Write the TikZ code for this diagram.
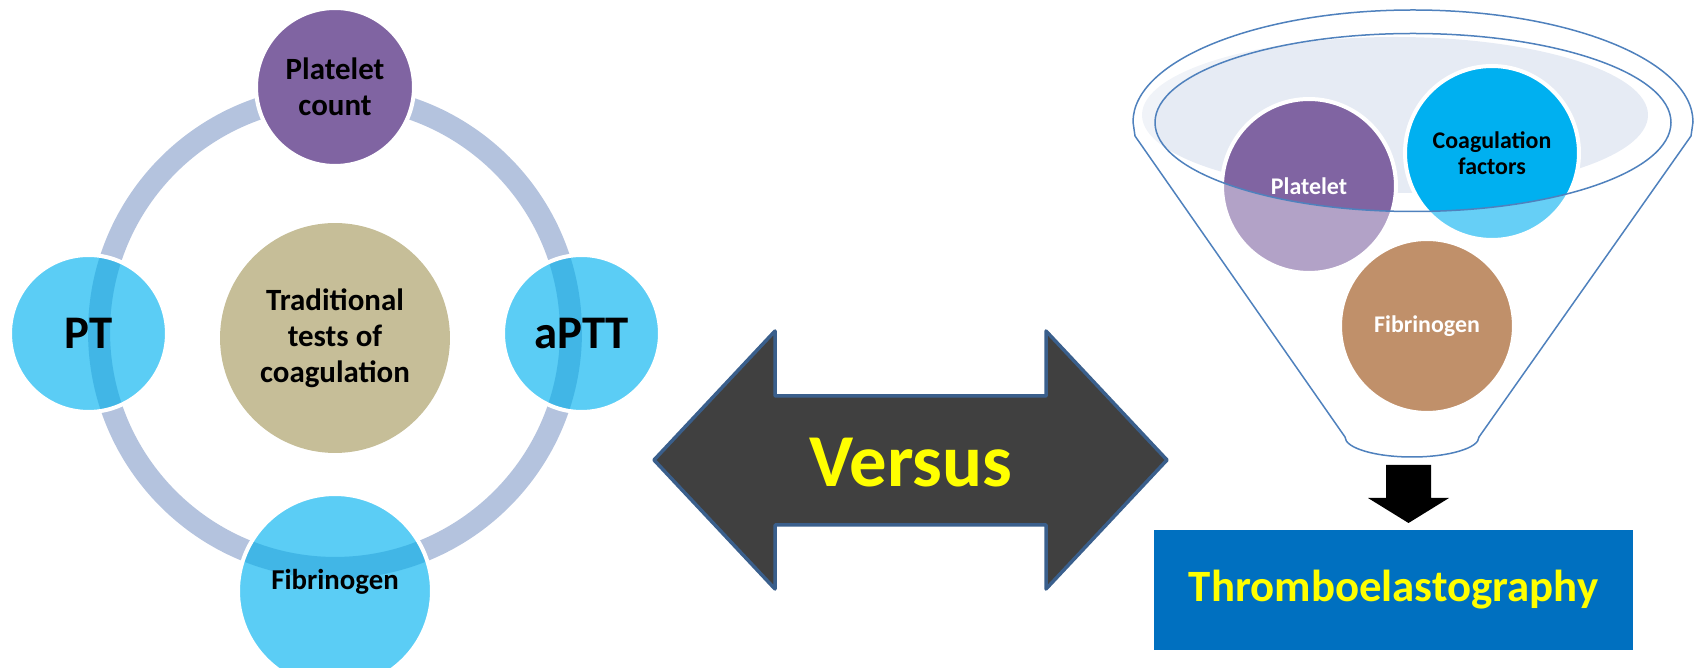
\documentclass[tikz,border=0pt]{standalone}
\usepackage{fontspec}
\setmainfont{Carlito}
\usepackage{tikz}
\usetikzlibrary{calc, positioning, shapes.geometric}
\definecolor{ringblue}{HTML}{B4C3DE}
\definecolor{bandblue}{HTML}{41B6E6}
\definecolor{skyfill}{HTML}{5BCDF5}
\definecolor{violetfill}{HTML}{8064A2}
\definecolor{khakifill}{HTML}{C6BE98}
\definecolor{arrowline}{HTML}{3A5F8C}
\definecolor{arrowfill}{HTML}{404040}
\definecolor{funnelline}{HTML}{4F81BD}
\definecolor{funnelfill}{HTML}{E6EBF4}
\definecolor{cyanfill}{HTML}{00B0F0}
\definecolor{brownfill}{HTML}{C0906A}
\definecolor{boxblue}{HTML}{0070C0}
\definecolor{versusyellow}{HTML}{FFFF00}
\tikzset{
    test/.style ={circle, draw=white, line width=0.08cm, inner sep=0pt, align=center,
                  font=\bfseries\fontsize{17.6}{20.4}\selectfont},
    side/.style ={test, fill=skyfill, minimum size=3.14cm,
                  path picture={\draw[bandblue, line width=0.44cm] (ringc) circle [radius=4.72cm];}},
    ball/.style ={circle, draw=white, line width=0.08cm, minimum size=3.48cm, inner sep=0pt,
                  align=center, font=\bfseries\fontsize{13.6}{15}\selectfont},
    bigtext/.style ={font=\bfseries\fontsize{26.6}{30}\selectfont}
    }

\begin{document}
\begin{tikzpicture}[
      x=0.02cm, y=-0.02cm, % one unit is one pixel of the reference
      semithick % line style
    ]
    \useasboundingbox (0,0) rectangle (1698,668);

    % traditional tests
    \coordinate (ringc) at (335,332);
    \draw[ringblue, line width=0.44cm] (ringc) circle [radius=4.72cm];
    \node[circle, fill=khakifill, minimum size=4.6cm, align=center,
          font=\bfseries\fontsize{17.6}{20.4}\selectfont] (trad) at (335,338)
          {Traditional\\tests of\\coagulation};
    \node[test, fill=violetfill, minimum size=3.16cm] (plc) at (335,87) {Platelet\\count};
    \node[side, bigtext] (pt) at (88.5,333.5) {PT};
    \node[side, bigtext] (aptt) at (581.5,333.5) {aPTT};
    \node[side, minimum size=3.88cm, text depth=0.48cm,
          font=\bfseries\fontsize{16.4}{19}\selectfont] (fib) at (335,591) {Fibrinogen};

    % versus arrow
    \draw[draw=arrowline, fill=arrowfill, line width=0.07cm, line join=round]
        (654,460) -- (775,331) -- (775,396) -- (1046,396) -- (1046,331) -- (1167,460)
        -- (1046,589) -- (1046,525) -- (775,525) -- (775,589) -- cycle;
    \node[text=versusyellow, font=\bfseries\fontsize{42.5}{48}\selectfont] (vs) at (911,463) {Versus};

    % funnel
    \fill[funnelfill] (1395,115) ellipse [x radius=253, y radius=78];
    \node[ball, fill=violetfill, text=white] (plt) at (1309,186) {Platelet};
    \node[ball, fill=cyanfill] (coag) at (1492,153) {Coagulation\\factors};
    \path[draw=funnelline, line width=0.03cm, fill=white, fill opacity=0.4, even odd rule]
        (1345,437) -- (1135,136) -- (1133,122)
        arc [start angle=180, end angle=360, x radius=280, y radius=112]
        -- (1691,136) -- (1479,437)
        arc [start angle=0, end angle=180, x radius=67, y radius=20] -- cycle
        (1413,122.5) ellipse [x radius=258, y radius=89];
    \node[ball, fill=brownfill, text=white] (fbr) at (1427,326) {Fibrinogen};

    % result
    \fill (1386,465) -- (1431,465) -- (1431,498) -- (1449,498) -- (1408.5,523)
        -- (1368,498) -- (1386,498) -- cycle;
    \node[fill=boxblue, minimum width=9.58cm, minimum height=2.4cm, text=versusyellow,
          font=\bfseries\fontsize{25.5}{30}\selectfont] (teg) at (1393.5,590) {Thromboelastography};

\end{tikzpicture}
\end{document}
